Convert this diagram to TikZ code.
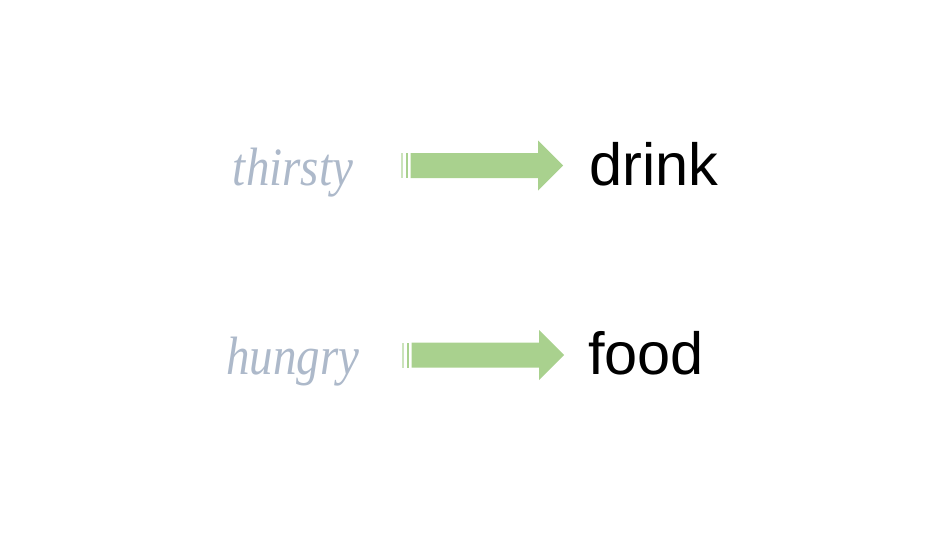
\documentclass[tikz,border=0pt]{standalone}
\usepackage{fontspec}
\usepackage{graphicx}
\setmainfont{Liberation Sans}
\newfontfamily\cueserif{Liberation Serif}
\definecolor{arrowgreen}{HTML}{A9D18E}
\definecolor{cuegray}{HTML}{ADB9CA}
\tikzset{
  cue/.style={anchor=base, inner sep=0pt, text=cuegray, font=\cueserif\itshape\fontsize{54}{62}\selectfont},
  target/.style={anchor=base west, inner sep=0pt, text=black, font=\fontsize{59.5}{68}\selectfont},
  greenfill/.style={fill=arrowgreen, draw=none}
}
\newcommand{\stripedarrow}[2]{%
  % #1 = tail coordinate name (centre line), #2 = tip coordinate name
  \fill[greenfill, opacity=0.6] ([xshift=-1pt,yshift=-12.5pt]#1) rectangle ([xshift=1pt,yshift=12.5pt]#1);
  \fill[greenfill] ([xshift=3.8pt,yshift=-12.5pt]#1) rectangle ([xshift=6.6pt,yshift=12.5pt]#1);
  \fill[greenfill] ([xshift=8.8pt,yshift=-12.5pt]#1) -- ([xshift=-25pt,yshift=-12.5pt]#2)
     -- ([xshift=-25pt,yshift=-25pt]#2) -- (#2) -- ([xshift=-25pt,yshift=25pt]#2)
     -- ([xshift=-25pt,yshift=12.5pt]#2) -- ([xshift=8.8pt,yshift=12.5pt]#1) -- cycle;
}
\begin{document}
\begin{tikzpicture}[x=1pt,y=-1pt]
\useasboundingbox (0,0) rectangle (950,535);
\node[cue] (thirsty) at (293,185) {\scalebox{0.87}[1]{thirsty}};
\node[target] (drink) at (589,185) {drink};
\node[cue] (hungry) at (293,374) {\scalebox{0.87}[1]{hungry}};
\node[target] (food) at (588,374) {food};
\coordinate (a1tail) at (401.7,165.5);
\coordinate (a1tip) at (563,165.5);
\coordinate (a2tail) at (402.7,355);
\coordinate (a2tip) at (564,355);
\stripedarrow{a1tail}{a1tip}
\stripedarrow{a2tail}{a2tip}
\end{tikzpicture}
\end{document}
